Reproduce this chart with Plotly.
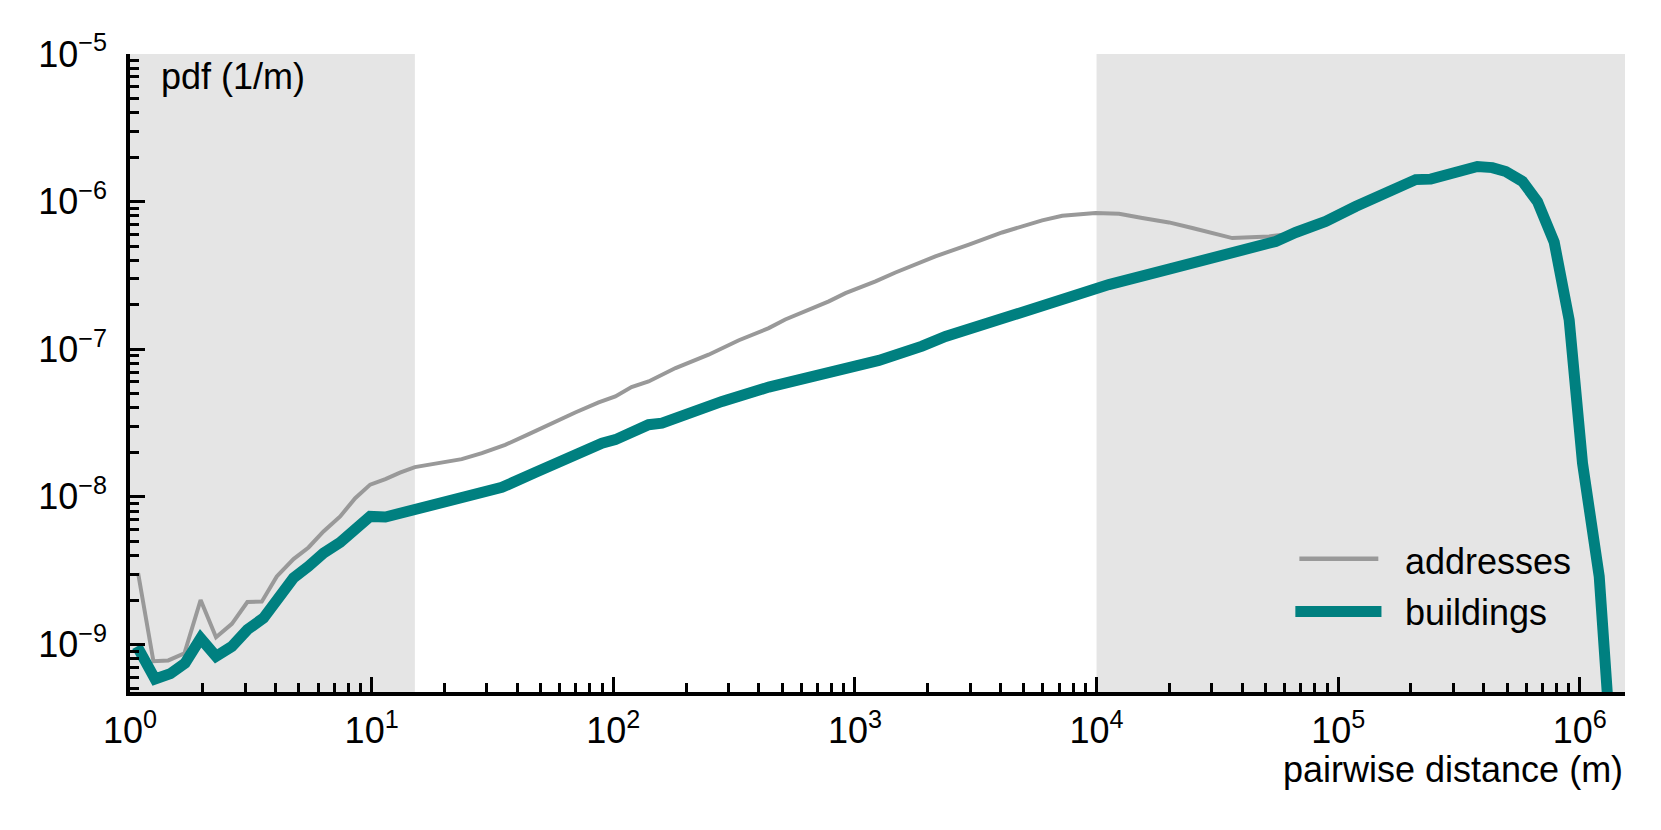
import plotly.graph_objects as go

# ---- data ----
x_addresses = [1.08, 1.25, 1.44, 1.68, 1.96, 2.27, 2.64, 3.06, 3.51, 4.05,
               4.75, 5.48, 6.32, 7.41, 8.55, 9.86, 11.4, 13.1, 15.1, 18.9,
               23.6, 28.6, 35.7, 44.7, 55.7, 69.6, 87.0, 102, 119, 140,
               181, 248, 331, 440, 515, 780, 914, 1217, 1472, 1897,
               2153, 2964, 4066, 5957, 7211, 9908, 12390, 15460, 19940, 24900,
               36470, 51760, 66680, 88750]
y_addresses = [3.05e-9, 7.7e-10, 7.8e-10, 8.7e-10, 2.0e-9, 1.12e-9, 1.38e-9, 1.94e-9, 1.95e-9, 2.89e-9,
               3.79e-9, 4.54e-9, 5.83e-9, 7.37e-9, 9.8e-9, 1.21e-8, 1.32e-8, 1.46e-8, 1.59e-8, 1.69e-8,
               1.80e-8, 1.98e-8, 2.25e-8, 2.66e-8, 3.16e-8, 3.73e-8, 4.36e-8, 4.79e-8, 5.54e-8, 6.05e-8,
               7.46e-8, 9.18e-8, 1.15e-7, 1.39e-7, 1.59e-7, 2.11e-7, 2.40e-7, 2.88e-7, 3.31e-7, 3.93e-7,
               4.26e-7, 5.11e-7, 6.18e-7, 7.46e-7, 8.02e-7, 8.37e-7, 8.28e-7, 7.74e-7, 7.23e-7, 6.62e-7,
               5.66e-7, 5.81e-7, 6.1e-7, 7.3e-7]

x_buildings = [1.07, 1.27, 1.47, 1.69, 1.96, 2.27, 2.64, 3.06, 3.57, 4.11,
               4.75, 5.48, 6.32, 7.41, 8.55, 9.86, 11.4, 13.3, 15.4, 17.8,
               20.8, 26.8, 34.6, 47.5, 65.4, 89.8, 102, 123, 140, 159,
               205, 248, 282, 440, 586, 686, 914, 1256, 1897, 2371,
               3582, 5585, 8185, 11250, 19940, 35340, 55080, 66680, 88750, 118000,
               152400, 178600, 209400, 241600, 278700, 326600, 376700, 434500, 493900, 579400,
               668300, 783400, 903600, 1026000, 1203000, 1387000]
y_buildings = [9.7e-10, 5.83e-10, 6.34e-10, 7.48e-10, 1.10e-9, 8.3e-10, 9.7e-10, 1.26e-9, 1.51e-9, 2.11e-9,
               2.82e-9, 3.38e-9, 4.16e-9, 4.91e-9, 6.15e-9, 7.37e-9, 7.3e-9, 7.76e-9, 8.26e-9, 8.67e-9,
               9.46e-9, 1.02e-8, 1.16e-8, 1.46e-8, 1.88e-8, 2.31e-8, 2.44e-8, 2.85e-8, 3.08e-8, 3.16e-8,
               3.70e-8, 4.21e-8, 4.43e-8, 5.54e-8, 6.15e-8, 6.72e-8, 7.4e-8, 8.4e-8, 1.05e-7, 1.22e-7,
               1.51e-7, 1.90e-7, 2.28e-7, 2.74e-7, 3.49e-7, 4.37e-7, 5.37e-7, 6.18e-7, 7.34e-7, 9.27e-7,
               1.11e-6, 1.30e-6, 1.41e-6, 1.42e-6, 1.52e-6, 1.63e-6, 1.73e-6, 1.70e-6, 1.60e-6, 1.37e-6,
               1.00e-6, 5.31e-7, 1.58e-7, 1.69e-8, 2.89e-9, 1.0e-10]

x_tick_vals = [1, 10, 100, 1000, 1e4, 1e5, 1e6]
x_tick_text = ["10<sup>0</sup>", "10<sup>1</sup>", "10<sup>2</sup>", "10<sup>3</sup>",
               "10<sup>4</sup>", "10<sup>5</sup>", "10<sup>6</sup>"]
y_tick_vals = [1e-9, 1e-8, 1e-7, 1e-6, 1e-5]
y_tick_text = ["10<sup>\u22129</sup>", "10<sup>\u22128</sup>", "10<sup>\u22127</sup>",
               "10<sup>\u22126</sup>", "10<sup>\u22125</sup>"]

shade_left = [1, 15.1]
shade_right = [1e4, 10 ** 6.187]

series_names = ["addresses", "buildings"]

# ---- style ----
FONT = "Liberation Sans, Arial, Helvetica, sans-serif"
FS = 36
GRAY = "#999999"
TEAL = "#008080"
SHADE = "#e5e5e5"

fig = go.Figure()
fig.add_trace(go.Scatter(x=x_addresses, y=y_addresses, mode="lines", name=series_names[0],
                         line=dict(color=GRAY, width=4)))
fig.add_trace(go.Scatter(x=x_buildings, y=y_buildings, mode="lines", name=series_names[1],
                         line=dict(color=TEAL, width=11)))

for x0, x1 in (shade_left, shade_right):
    fig.add_shape(type="rect", xref="x", yref="paper", x0=x0, x1=x1, y0=0, y1=1,
                  fillcolor=SHADE, line=dict(width=0), layer="below")

# manual legend
fig.add_shape(type="line", xref="paper", yref="paper", x0=0.7822, x1=0.8350, y0=0.2089, y1=0.2089,
              line=dict(color=GRAY, width=4.5))
fig.add_shape(type="line", xref="paper", yref="paper", x0=0.7795, x1=0.8371, y0=0.1263, y1=0.1263,
              line=dict(color=TEAL, width=11))
fig.add_annotation(text=series_names[0], xref="paper", yref="paper", x=0.8518, y=0.2392,
                   xanchor="left", yanchor="top", showarrow=False,
                   font=dict(family=FONT, size=FS, color="black"))
fig.add_annotation(text=series_names[1], xref="paper", yref="paper", x=0.8518, y=0.1599,
                   xanchor="left", yanchor="top", showarrow=False,
                   font=dict(family=FONT, size=FS, color="black"))

fig.add_annotation(text="pdf (1/m)", xref="paper", yref="paper", x=0.0195, y=1.0,
                   xanchor="left", yanchor="top", showarrow=False,
                   font=dict(family=FONT, size=FS, color="black"))
fig.add_annotation(text="pairwise distance (m)", xref="paper", yref="paper", x=1.0, y=-0.0857,
                   xanchor="right", yanchor="top", showarrow=False,
                   font=dict(family=FONT, size=FS, color="black"))

axis_common = dict(
    type="log", showline=True, linecolor="black", linewidth=3.5, mirror=False,
    ticks="inside", ticklen=15, tickwidth=3, tickcolor="black",
    showgrid=False, zeroline=False, tickmode="array",
    tickfont=dict(family=FONT, size=FS, color="black"),
    minor=dict(ticks="inside", ticklen=9, tickwidth=2.5, tickcolor="black",
               tickmode="linear", dtick="D1", showgrid=False),
)

fig.update_xaxes(range=[0, 6.187], tickvals=x_tick_vals, ticktext=x_tick_text,
                 ticklabelstandoff=4, **axis_common)
fig.update_yaxes(range=[-9.322, -5], tickvals=y_tick_vals, ticktext=y_tick_text,
                 ticklabelstandoff=12, **axis_common)

# the page body adds an 8 px offset; margins compensate so the plot area lands in place
fig.update_layout(
    width=1661, height=830,
    margin=dict(l=122, r=44, t=46, b=146),
    plot_bgcolor="white", paper_bgcolor="white",
    showlegend=False,
    font=dict(family=FONT, size=FS, color="black"),
)

fig.write_html("out.html")
